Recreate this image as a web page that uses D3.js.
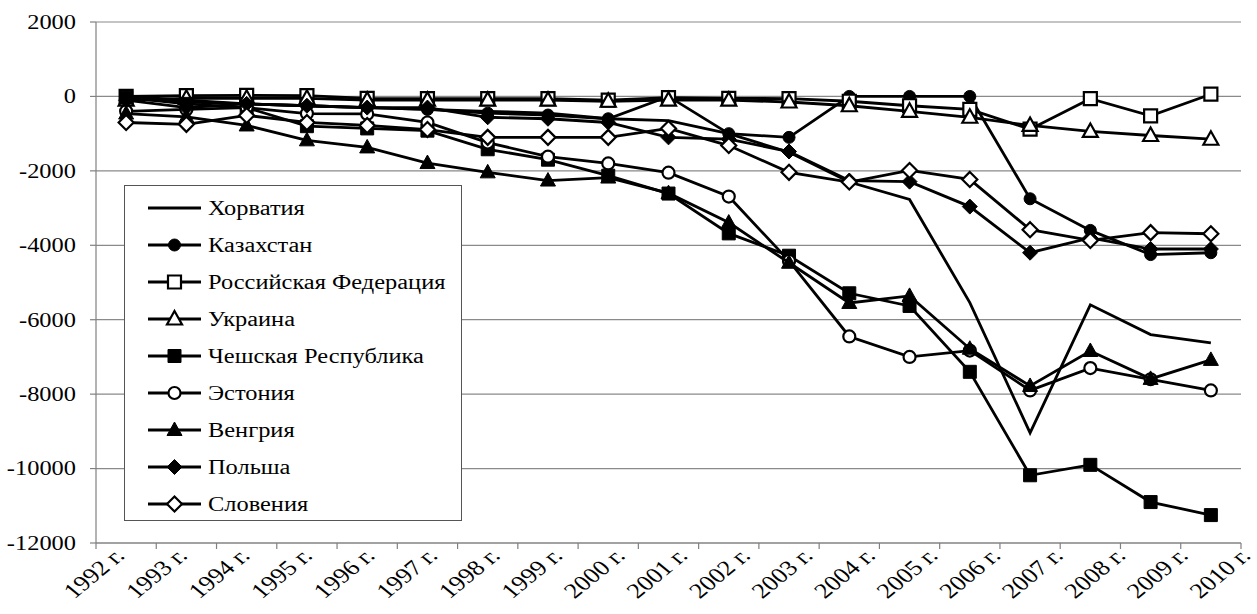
<!DOCTYPE html>
<html>
<head>
<meta charset="utf-8">
<script src="https://cdn.jsdelivr.net/npm/d3@7"></script>
<style>
  body { margin: 0; background: #fff; }
</style>
</head>
<body>
<svg id="chart" width="1257" height="614"></svg>
<script>
// categories
const years = ['1992 г.', '1993 г.', '1994 г.', '1995 г.', '1996 г.', '1997 г.', '1998 г.', '1999 г.', '2000 г.',
  '2001 г.', '2002 г.', '2003 г.', '2004 г.', '2005 г.', '2006 г.', '2007 г.', '2008 г.', '2009 г.', '2010 г.'];
const yTicks = [2000, 0, -2000, -4000, -6000, -8000, -10000, -12000];

// series values
const croatia    = [0, -100, -200, -250, -300, -350, -400, -450, -600, -650, -1000, -1500, -2300, -2770, -5540, -9040, -5600, -6400, -6620];
const kazakhstan = [-50, -150, -200, -250, -300, -350, -450, -500, -600, 0, -1000, -1100, 0, 0, 0, -2750, -3600, -4250, -4200];
const russia     = [0, 20, 30, 20, -50, -60, -60, -60, -100, -30, -50, -60, -130, -250, -350, -880, -60, -520, 60];
const ukraine    = [-100, -50, -50, -50, -100, -100, -100, -100, -130, -100, -100, -150, -250, -400, -560, -780, -940, -1050, -1150];
const czech      = [-30, -200, -300, -800, -860, -920, -1420, -1700, -2130, -2610, -3680, -4280, -5290, -5630, -7400, -10180, -9900, -10900, -11250];
const estonia    = [-400, -350, -300, -460, -470, -700, -1240, -1620, -1800, -2050, -2690, -4420, -6450, -7000, -6830, -7900, -7300, -7600, -7900];
const hungary    = [-460, -550, -780, -1180, -1370, -1790, -2040, -2260, -2180, -2600, -3390, -4470, -5550, -5360, -6780, -7780, -6840, -7590, -7080];
const poland     = [-100, -300, -200, -250, -300, -300, -560, -600, -700, -1100, -1150, -1480, -2260, -2290, -2960, -4200, -3800, -4100, -4100];
const slovenia   = [-700, -750, -510, -700, -780, -890, -1100, -1100, -1100, -860, -1320, -2040, -2300, -1990, -2230, -3580, -3870, -3660, -3690];

const seriesNames = ['Хорватия', 'Казахстан', 'Российская Федерация', 'Украина', 'Чешская Республика',
  'Эстония', 'Венгрия', 'Польша', 'Словения'];
const seriesValues = [croatia, kazakhstan, russia, ukraine, czech, estonia, hungary, poland, slovenia];
const seriesMarkers = ['none', 'circle-fill', 'square-open', 'triangle-open', 'square-fill',
  'circle-open', 'triangle-fill', 'diamond-fill', 'diamond-open'];

const svg = d3.select('#chart');
const stretch = 1.22; // the picture's text is widened horizontally

const plotLeft = 96, plotRight = 1241, plotTop = 22, plotBottom = 543;

const x = d3.scaleBand().domain(years).range([plotLeft, plotRight]);
const xc = d => x(d) + x.bandwidth() / 2;
const xLabel = d3.scalePoint().domain(years).range([126, 1252]);
const y = d3.scaleLinear().domain([-12000, 2000]).range([plotBottom, plotTop]);

// widen horizontal text the way the picture does
function widen(sel) {
  sel.each(function () {
    const w = this.getComputedTextLength();
    d3.select(this).attr('textLength', w * stretch).attr('lengthAdjust', 'spacingAndGlyphs');
  });
}

// gridlines
svg.append('g')
  .selectAll('line')
  .data(yTicks)
  .enter()
  .append('line')
  .attr('x1', plotLeft)
  .attr('x2', plotRight)
  .attr('y1', d => y(d))
  .attr('y2', d => y(d))
  .attr('stroke', '#8a8a8a')
  .attr('stroke-width', 1.2);

// y axis
const yAxis = svg.append('g');
yAxis.append('line')
  .attr('x1', plotLeft).attr('x2', plotLeft)
  .attr('y1', plotTop).attr('y2', plotBottom)
  .attr('stroke', '#808080').attr('stroke-width', 1.2);
yAxis.selectAll('line.tk')
  .data(yTicks)
  .enter()
  .append('line')
  .attr('class', 'tk')
  .attr('x1', plotLeft - 6).attr('x2', plotLeft)
  .attr('y1', d => y(d)).attr('y2', d => y(d))
  .attr('stroke', '#808080').attr('stroke-width', 1.2);

svg.append('g')
  .selectAll('text')
  .data(yTicks)
  .enter()
  .append('text')
  .attr('x', 76)
  .attr('y', d => y(d))
  .attr('text-anchor', 'end')
  .attr('dy', '0.34em')
  .style('font-family', 'Liberation Serif')
  .style('font-size', '20px')
  .text(d => d)
  .call(widen);

// x axis
const xAxis = svg.append('g')
  .attr('transform', `translate(0,${plotBottom})`);
xAxis.append('line')
  .attr('x1', plotLeft).attr('x2', plotRight)
  .attr('stroke', '#808080').attr('stroke-width', 1.2);
xAxis.selectAll('line.tk')
  .data(years.concat(['end']))
  .enter()
  .append('line')
  .attr('class', 'tk')
  .attr('x1', (d, i) => plotLeft + i * x.bandwidth())
  .attr('x2', (d, i) => plotLeft + i * x.bandwidth())
  .attr('y1', 0)
  .attr('y2', 6)
  .attr('stroke', '#808080')
  .attr('stroke-width', 1.2);

// scale(1.22,1) then rotate(-45), as one matrix
const c45 = Math.SQRT1_2;
svg.append('g')
  .selectAll('text')
  .data(years)
  .enter()
  .append('text')
  .attr('transform', d => `matrix(${stretch * c45},${-c45},${stretch * c45},${c45},${xLabel(d)},557)`)
  .attr('text-anchor', 'end')
  .style('font-family', 'Liberation Serif')
  .style('font-size', '21.5px')
  .text(d => d);

// marker shapes
function markerPath(type) {
  if (type.startsWith('square')) return 'M-6.5,-6.5H6.5V6.5H-6.5Z';
  if (type.startsWith('triangle')) return 'M0,-8L7.5,5.5L-7.5,5.5Z';
  if (type.startsWith('diamond')) return 'M0,-7.5L7.5,0L0,7.5L-7.5,0Z';
  if (type.startsWith('circle')) return d3.symbol().type(d3.symbolCircle).size(Math.PI * 36)();
  return null;
}

function drawMarker(g, type) {
  if (type === 'none') return;
  const filled = type.endsWith('fill');
  g.append('path')
    .attr('d', markerPath(type))
    .attr('fill', filled ? '#000' : '#fff')
    .attr('stroke', '#000')
    .attr('stroke-width', filled ? 1 : 2.2);
}

const line = d3.line()
  .x((d, i) => xc(years[i]))
  .y(d => y(d));

// series
seriesValues.forEach((vals, s) => {
  const g = svg.append('g');
  g.append('path')
    .datum(vals)
    .attr('d', line)
    .attr('fill', 'none')
    .attr('stroke', '#000')
    .attr('stroke-width', 2.8)
    .attr('stroke-linejoin', 'miter');
  vals.forEach((v, i) => {
    const m = g.append('g').attr('transform', `translate(${xc(years[i])},${y(v)})`);
    drawMarker(m, seriesMarkers[s]);
  });
});

// legend
const legend = svg.append('g');
legend.append('rect')
  .attr('x', 124.5)
  .attr('y', 185.5)
  .attr('width', 337)
  .attr('height', 335)
  .attr('fill', '#fff')
  .attr('stroke', '#555')
  .attr('stroke-width', 1);

seriesNames.forEach((name, i) => {
  const ly = 208 + i * 37;
  const row = legend.append('g').attr('transform', `translate(0,${ly})`);
  row.append('line')
    .attr('x1', 148).attr('x2', 201)
    .attr('stroke', '#000').attr('stroke-width', 2.8);
  drawMarker(row.append('g').attr('transform', 'translate(174.5,0)'), seriesMarkers[i]);
  row.append('text')
    .attr('x', 208)
    .attr('dy', '0.34em')
    .style('font-family', 'Liberation Serif')
    .style('font-size', '20px')
    .text(name)
    .call(widen);
});
</script>
</body>
</html>
